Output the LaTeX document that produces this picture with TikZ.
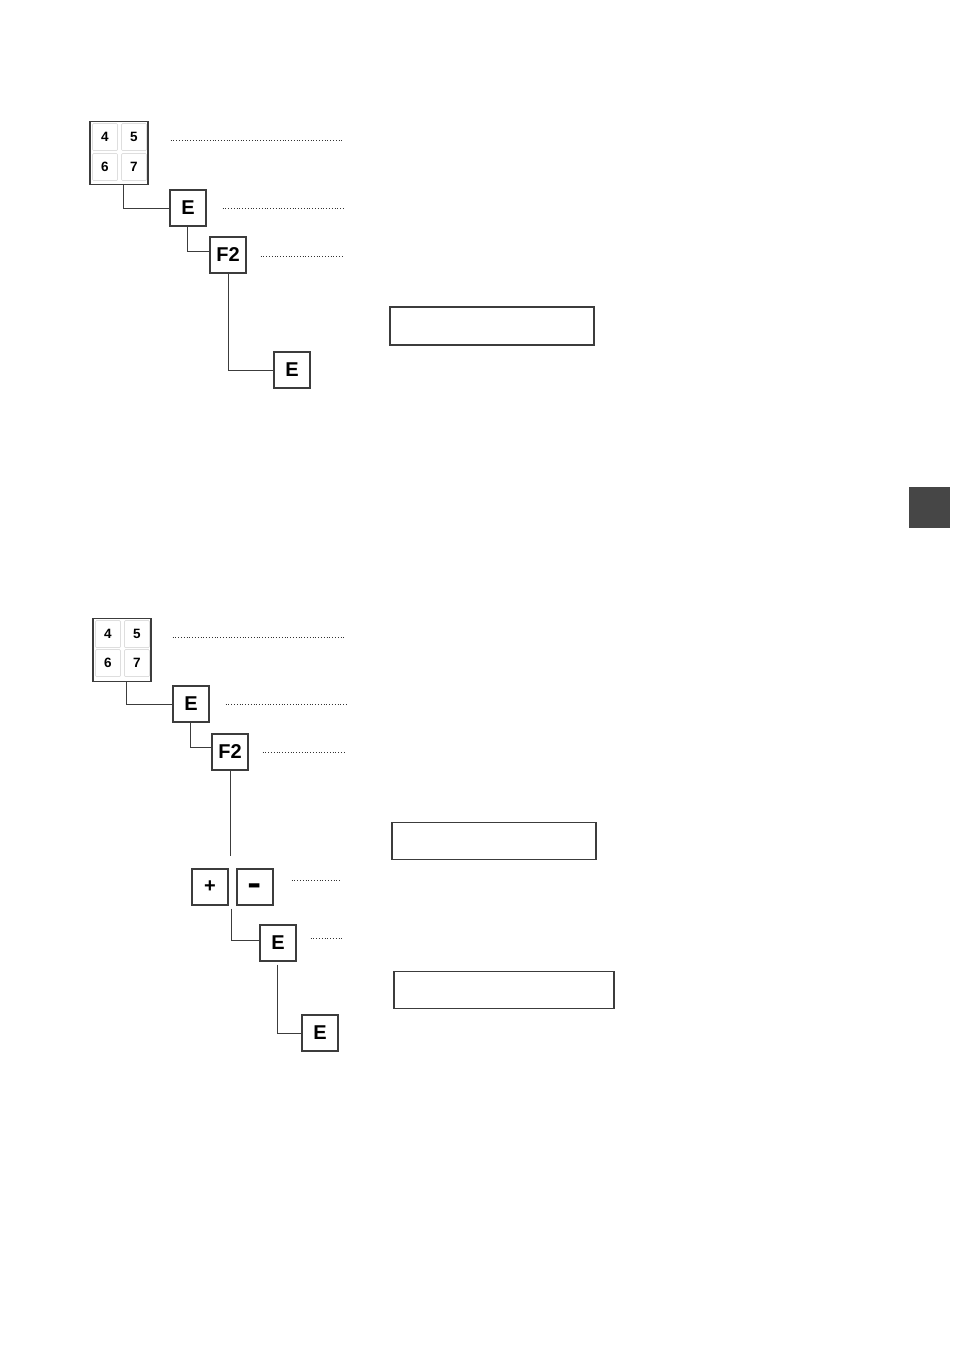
\documentclass[tikz,border=0pt]{standalone}
\usepackage{fontspec}
\setmainfont{Liberation Sans}
\definecolor{keyline}{HTML}{3C3C3C}
\definecolor{tabgray}{HTML}{464646}
\begin{document}
\begin{tikzpicture}[x=1pt,y=-1pt,
  keybox/.style={draw=keyline, line width=1.1pt, fill=white, minimum width=36pt, minimum height=36pt, inner sep=0pt, font=\fontsize{20}{20}\selectfont\bfseries},
  padbox/.style={draw=keyline, line width=1.1pt, fill=white, minimum width=58pt, minimum height=63pt, inner sep=0pt},
  digit/.style={draw=black!13, line width=0.7pt, rounded corners=1pt, minimum width=25pt, minimum height=27pt, inner sep=0pt, font=\fontsize{13.5}{13.5}\selectfont\bfseries},
  conn/.style={draw=keyline, line width=1pt},
  lead/.style={draw=black!80, line width=0.6pt, dash pattern=on 0.7pt off 2.1pt},
  disp/.style={draw=keyline, line width=1.2pt, inner sep=0pt}
]
\useasboundingbox (0,0) rectangle (954,1350);

% ---------- top part ----------
\node[padbox] (pa) at (119,153) {};
\node[digit] (pa4) at (105,137) {4};
\node[digit] (pa5) at (134,137) {5};
\node[digit] (pa6) at (105,167) {6};
\node[digit] (pa7) at (134,167) {7};
\node[keybox] (ea) at (188,208) {E};
\node[keybox] (fa) at (228,255) {F2};
\node[keybox] (ga) at (292,370) {E};
\node[disp, minimum width=204pt, minimum height=38pt] (da) at (492,326) {};

\coordinate (la1) at (342,140);
\coordinate (la2) at (343,208);
\coordinate (la3) at (343,256);
\draw[lead] ([xshift=22pt]pa.east |- la1) -- (la1);
\draw[lead] ([xshift=16pt]ea.east |- la2) -- (la2);
\draw[lead] ([xshift=14pt]fa.east |- la3) -- (la3);

\draw[conn] ([xshift=4pt]pa.south) |- (ea.west);
\draw[conn] ([xshift=-1pt]ea.south) |- ([yshift=4pt]fa.west);
\draw[conn] (fa.south) |- (ga.west);

% ---------- bottom part ----------
\node[padbox] (pb) at (122,650) {};
\node[digit] (pb4) at (108,634) {4};
\node[digit] (pb5) at (137,634) {5};
\node[digit] (pb6) at (108,663) {6};
\node[digit] (pb7) at (137,663) {7};
\node[keybox] (eb) at (191,704) {E};
\node[keybox] (fb) at (230,752) {F2};
\node[keybox] (pl) at (210,887) {\raisebox{-1.5pt}{+}};
\node[keybox, text height=8pt, text depth=0pt] (mi) at (255,887) {\raisebox{-7pt}{\scalebox{1.05}[1.9]{−}}};
\node[keybox] (gb) at (278,943) {E};
\node[keybox] (hb) at (320,1033) {E};
\node[disp, minimum width=204pt, minimum height=37pt] (db) at (494,841) {};
\node[disp, minimum width=220pt, minimum height=37pt] (dc) at (504,990) {};

\coordinate (lb1) at (345,637);
\coordinate (lb2) at (346,704);
\coordinate (lb3) at (346,752);
\coordinate (lb4) at (340,880);
\coordinate (lb5) at (342,938);
\draw[lead] ([xshift=21pt]pb.east |- lb1) -- (lb1);
\draw[lead] ([xshift=16pt]eb.east |- lb2) -- (lb2);
\draw[lead] ([xshift=14pt]fb.east |- lb3) -- (lb3);
\draw[lead] ([xshift=18pt]mi.east |- lb4) -- (lb4);
\draw[lead] ([xshift=14pt]gb.east |- lb5) -- (lb5);

\draw[conn] ([xshift=4pt]pb.south) |- (eb.west);
\draw[conn] ([xshift=-1pt]eb.south) |- ([yshift=5pt]fb.west);
\coordinate (fbend) at (230,856);
\draw[conn] (fb.south) -- (fbend);
\draw[conn] ([yshift=-3pt]pl.south east) ++(3pt,0) |- ([yshift=3pt]gb.west);
\draw[conn] ([xshift=-1pt,yshift=-3pt]gb.south) |- (hb.west);

% ---------- side tab ----------
\node[fill=tabgray, minimum width=41pt, minimum height=41pt, inner sep=0pt] (tab) at (929.5,507.5) {};
\end{tikzpicture}
\end{document}
